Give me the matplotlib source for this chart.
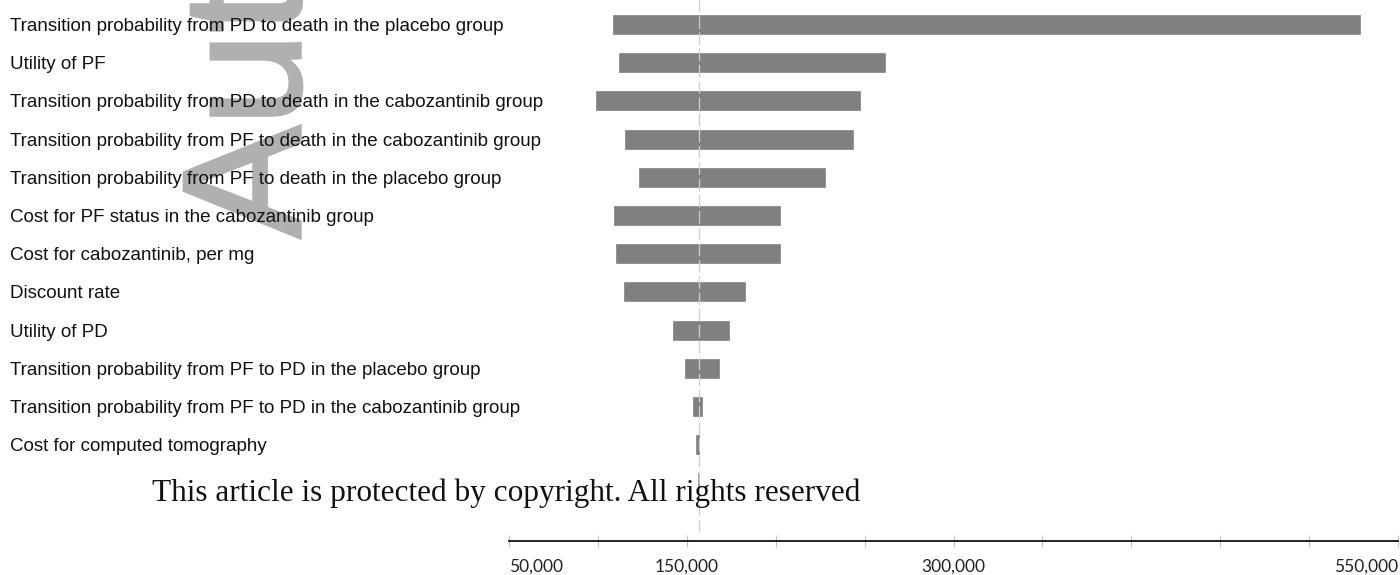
import matplotlib
matplotlib.use('Agg')
import matplotlib.pyplot as plt
from matplotlib.textpath import TextPath
from matplotlib.patches import PathPatch
from matplotlib.font_manager import FontProperties
from matplotlib.transforms import Affine2D, blended_transform_factory

# One-way sensitivity analysis (tornado diagram), ICER in US$/QALY
params = [
    'Transition probability from PD to death in the placebo group',
    'Utility of PF',
    'Transition probability from PD to death in the cabozantinib group',
    'Transition probability from PF to death in the cabozantinib group',
    'Transition probability from PF to death in the placebo group',
    'Cost for PF status in the cabozantinib group',
    'Cost for cabozantinib, per mg',
    'Discount rate',
    'Utility of PD',
    'Transition probability from PF to PD in the placebo group',
    'Transition probability from PF to PD in the cabozantinib group',
    'Cost for computed tomography',
    '',
]
low_values = [108300, 111900, 99100, 115400, 123100, 109200, 110200,
              114500, 142200, 149200, 153300, 155200, 156300]
high_values = [528600, 261500, 247400, 243300, 227700, 202400, 202200,
               182900, 173900, 167900, 158500, 156900, 156900]
base_icer = 156800

tick_values = [50000, 100000, 150000, 200000, 250000, 300000,
               350000, 400000, 450000, 500000, 550000]
tick_labels = ['50,000', '', '150,000', '', '', '300,000',
               '', '', '', '', '550,000']

W, H = 1400, 575
fig = plt.figure(figsize=(W / 100, H / 100), dpi=100)
fig.patch.set_facecolor('white')

# faint rotated manuscript stamp behind the labels
tp = TextPath((0, 0), 'Author Manuscript', size=100,
              prop=FontProperties(family='Liberation Sans'))
stamp_tr = Affine2D().scale(1.68).rotate_deg(90).translate(300, H - 238)
fig.add_artist(PathPatch(tp, transform=stamp_tr, facecolor='#b0b0b0',
                         edgecolor='#b0b0b0', linewidth=2.5, zorder=-1))

ax = fig.add_axes([509 / W, (H - 541) / H, 889 / W, 541 / H])
ax.patch.set_visible(False)

ys = list(range(len(params)))
widths = [h - l for l, h in zip(low_values, high_values)]
ax.barh(ys, widths, left=low_values, height=0.5, color='#808080',
        edgecolor='#8c8c8c', linewidth=0.6, zorder=2)
ax.axvline(base_icer, ymin=0.017, ymax=1, color='#cfcfcf', lw=0.9,
           dashes=(10, 3), zorder=3)

ax.set_xlim(50000, 550000)
ax.set_ylim(13.52, -0.641)
ax.set_yticks([])
for side in ('left', 'right', 'top'):
    ax.spines[side].set_visible(False)
ax.spines['bottom'].set_color('#111111')
ax.spines['bottom'].set_linewidth(1.3)

ax.set_xticks(tick_values, tick_labels)
ax.tick_params(axis='x', direction='inout', length=9, width=0.8,
               color='#c4c4c4', pad=8, labelsize=12.5, labelcolor='#222222')
for lab in ax.get_xticklabels():
    lab.set_family('Lato')
xlabs = ax.get_xticklabels()
xlabs[0].set_ha('left')
xlabs[-1].set_ha('right')

lab_tr = blended_transform_factory(fig.transFigure, ax.transData)
for y, name in zip(ys, params):
    ax.text(10 / W, y + 0.05, name, transform=lab_tr, ha='left', va='center',
            fontsize=13.5, family='Liberation Sans', color='#111111')

fig.text(152 / W, 1 - 501 / H,
         'This article is protected by copyright. All rights reserved',
         family='Liberation Serif', fontsize=22.5, va='baseline',
         color='#111111')

fig.savefig('out.png', dpi=100)
